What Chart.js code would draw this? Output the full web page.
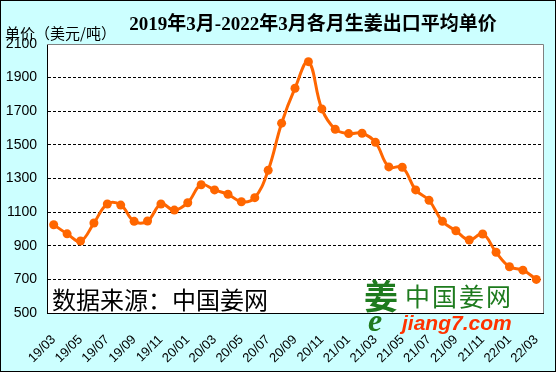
<!DOCTYPE html>
<html><head><meta charset="utf-8">
<script src="https://cdn.jsdelivr.net/npm/chart.js@4/dist/chart.umd.min.js"></script>
<style>html,body{margin:0;padding:0;background:#CCFFFF;}#c{display:block;}</style>
</head><body>
<div style="width:556px;height:372px;position:relative"><canvas id="c" width="556" height="372"></canvas></div>
<script>
const months = ['19/03','19/04','19/05','19/06','19/07','19/08','19/09','19/10','19/11','19/12',
 '20/01','20/02','20/03','20/04','20/05','20/06','20/07','20/08','20/09','20/10','20/11','20/12',
 '21/01','21/02','21/03','21/04','21/05','21/06','21/07','21/08','21/09','21/10','21/11','21/12',
 '22/01','22/02','22/03'];
const prices = [1025,971,928,1035,1148,1142,1045,1047,1148,1112,
 1156,1263,1232,1206,1162,1186,1349,1629,1837,1995,1714,1593,
 1567,1569,1515,1369,1367,1232,1170,1045,989,934,970,861,
 775,755,700];
const yMin = 500, yMax = 2100, yStep = 200;
const titleText = '2019年3月-2022年3月各月生姜出口平均单价';
const unitText = '单价（美元/吨）';
const sourceText = '数据来源：中国姜网';

const decor = {
  id:'decor',
  beforeDraw(chart){
    const ctx = chart.ctx, a = chart.chartArea;
    ctx.save();
    ctx.fillStyle = '#CCFFFF';
    ctx.fillRect(0,0,chart.width,chart.height);
    ctx.fillStyle = '#FFFFFF';
    ctx.fillRect(a.left,a.top,a.right-a.left,a.bottom-a.top);
    ctx.strokeStyle = '#000';
    ctx.lineWidth = 1;
    ctx.strokeRect(0.5,0.5,chart.width-1,chart.height-1);
    ctx.restore();
  },
  beforeDatasetsDraw(chart){
    const ctx = chart.ctx, a = chart.chartArea;
    ctx.save();
    ctx.strokeStyle = '#808080';
    ctx.lineWidth = 1;
    ctx.beginPath();
    ctx.moveTo(a.left, Math.round(a.top)+0.5);
    ctx.lineTo(Math.round(a.right)+0.5, Math.round(a.top)+0.5);
    ctx.lineTo(Math.round(a.right)+0.5, a.bottom);
    ctx.stroke();
    ctx.fillStyle = '#000';
    ctx.font = "24px 'Noto Sans CJK SC'";
    ctx.textBaseline = 'alphabetic';
    ctx.textAlign = 'left';
    ctx.fillText(sourceText, 52, 309);
    ctx.restore();
  },
  afterDraw(chart){
    const ctx = chart.ctx;
    ctx.save();
    ctx.fillStyle = '#000';
    ctx.textBaseline = 'middle';
    ctx.textAlign = 'center';
    ctx.font = "bold 19px 'Liberation Serif', 'Noto Sans CJK SC'";
    ctx.fillText(titleText, 313, 25);
    ctx.textAlign = 'left';
    ctx.font = "15px 'Noto Sans CJK SC'";
    ctx.fillText(unitText, 5, 33);
    // logo
    ctx.fillStyle = '#1E7B1E';
    ctx.font = "bold 34px 'Noto Sans CJK SC'";
    ctx.textBaseline = 'alphabetic';
    ctx.fillText('姜', 364, 309);
    ctx.font = "bold italic 32px 'Liberation Serif'";
    ctx.fillText('e', 368, 331);
    ctx.font = "25px 'Noto Sans CJK SC'";
    ctx.letterSpacing = '2px';
    ctx.fillText('中国姜网', 405, 306);
    ctx.letterSpacing = '0px';
    ctx.fillStyle = '#FF3300';
    ctx.font = "bold italic 21px 'Liberation Sans'";
    ctx.fillText('jiang7.com', 402, 330);
    ctx.restore();
  }
};

new Chart(document.getElementById('c'), {
  type:'line',
  data:{labels:months, datasets:[{data:prices, borderColor:'#FF6600', backgroundColor:'#FF6600',
    borderWidth:3, tension:0.4, pointRadius:4.5, pointHoverRadius:4.5, pointBorderWidth:0}]},
  options:{
    responsive:false, animation:false, devicePixelRatio:1,
    layout:{padding:{top:44,right:13,left:0,bottom:0}},
    plugins:{legend:{display:false}, title:{display:false}, tooltip:{enabled:false}},
    scales:{
      x:{type:'category', offset:true,
        grid:{display:false, drawTicks:false},
        border:{display:true,color:'#000',width:1},
        afterFit(s){ s.height = 59; s.paddingLeft = 0; s.paddingRight = 0; },
        ticks:{autoSkip:false, maxRotation:45, minRotation:45, padding:19, color:'#000',
          font:{family:"'Liberation Sans'", size:13},
          callback(v,i){ return i%2===0 ? months[i] : ''; }}
      },
      y:{min:yMin, max:yMax,
        afterFit(s){ s.width = 47; },
        grid:{drawTicks:false, color(c){ const v=c.tick.value; return (v===yMin||v===yMax)?'rgba(0,0,0,0)':'#000'; }},
        border:{display:true,color:'#000',width:1, dash:[3,2]},
        ticks:{stepSize:yStep, padding:10, color:'#000', font:{family:"'Liberation Sans'", size:14},
          callback(v){ return String(v); }}
      }
    }
  },
  plugins:[decor]
});
</script>
</body></html>
